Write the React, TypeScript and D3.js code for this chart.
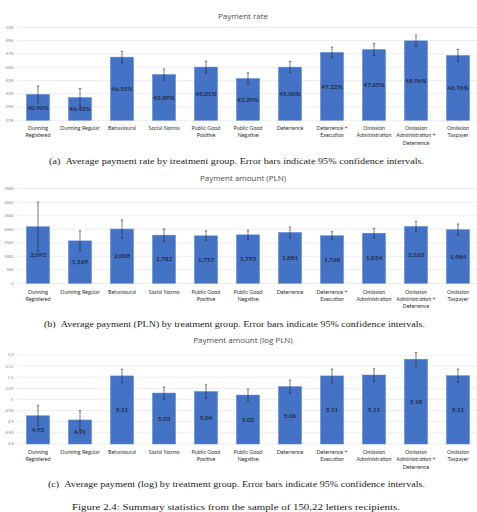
import React, { useEffect, useRef } from "react";
import * as d3 from "d3";

// treatment groups (lines of the x labels)
const groups: string[][] = [
  ["Dunning", "Registered"],
  ["Dunning Regular"],
  ["Behavioural"],
  ["Social Norms"],
  ["Public Good", "Positive"],
  ["Public Good", "Negative"],
  ["Deterrence"],
  ["Deterrence +", "Execution"],
  ["Omission", "Administration"],
  ["Omission", "Administration +", "Deterrence"],
  ["Omission", "Taxpayer"],
];

const rateValues = [40.9, 40.43, 46.51, 43.89, 45.01, 43.29, 45.0, 47.22, 47.65, 48.96, 46.76];
const rateErr = [1.26, 1.35, 0.85, 0.85, 0.9, 0.85, 0.85, 0.8, 0.9, 0.85, 0.9];
const rateTicks = [37, 39, 41, 43, 45, 47, 49, 51];

const amountValues = [2093, 1569, 2008, 1782, 1757, 1793, 1881, 1760, 1854, 2103, 1984];
const amountErr = [910, 368, 337, 226, 178, 170, 200, 150, 180, 190, 210];
const amountTicks = [0, 500, 1000, 1500, 2000, 2500, 3000, 3500];

const logValues = [4.927, 4.908, 5.106, 5.029, 5.036, 5.02, 5.058, 5.106, 5.11, 5.181, 5.107];
const logErr = [0.045, 0.043, 0.03, 0.027, 0.03, 0.027, 0.029, 0.031, 0.028, 0.03, 0.03];
const logTicks = [4.8, 4.85, 4.9, 4.95, 5.0, 5.05, 5.1, 5.15, 5.2];

const captions = [
  { text: "(a)\u00a0\u00a0Average payment rate by treatment group. Error bars indicate 95% confidence intervals.", x: 49, w: 375, y: 161 },
  { text: "(b)\u00a0\u00a0Average payment (PLN) by treatment group. Error bars indicate 95% confidence intervals.", x: 44, w: 381, y: 324 },
  { text: "(c)\u00a0\u00a0Average payment (log) by treatment group. Error bars indicate 95% confidence intervals.", x: 48, w: 377, y: 484 },
  { text: "Figure 2.4: Summary statistics from the sample of 150,22 letters recipients.", x: 72, w: 328, y: 507 },
];

const panels = [
  {
    title: "Payment rate", titleY: 16, values: rateValues, err: rateErr, ticks: rateTicks,
    domain: [37, 51], range: [120.3, 27.3], labelY: 130,
    tickFmt: (d: number) => d + "%", valFmt: (d: number) => d.toFixed(2) + "%",
  },
  {
    title: "Payment amount (PLN)", titleY: 178, values: amountValues, err: amountErr, ticks: amountTicks,
    domain: [0, 3500], range: [283.3, 188.7], labelY: 293.5,
    tickFmt: (d: number) => String(d), valFmt: d3.format(","),
  },
  {
    title: "Payment amount (log PLN)", titleY: 340, values: logValues, err: logErr, ticks: logTicks,
    domain: [4.8, 5.2], range: [444, 355], labelY: 454,
    tickFmt: (d: number) => String(+d.toFixed(2)), valFmt: (d: number) => d.toFixed(2),
  },
];

const App = () => {
  const ref = useRef<SVGSVGElement>(null);

  useEffect(() => {
    const svg = d3.select(ref.current);
    svg.selectAll("*").remove();
    svg.append("rect").attr("width", 477).attr("height", 512).attr("fill", "#fff");

    const x = d3.scaleBand<number>().domain(d3.range(groups.length)).range([17, 479]).paddingInner(0.45).paddingOuter(0.225);

    panels.forEach(p => {
      const y = d3.scaleLinear().domain(p.domain).range(p.range);
      const g = svg.append("g");

      g.append("text")
        .attr("x", 243).attr("y", p.titleY).attr("dy", "0.35em")
        .attr("text-anchor", "middle")
        .attr("font-family", "Open Sans").attr("font-size", 8).attr("fill", "#4d4d4d")
        .text(p.title);

      // grid + y tick labels
      g.selectAll(".grid").data(p.ticks).join("line")
        .attr("x1", 17).attr("x2", 479)
        .attr("y1", d => y(d)).attr("y2", d => y(d))
        .attr("stroke", "#d9d9d9").attr("stroke-width", 0.5);
      g.selectAll(".tick").data(p.ticks).join("text")
        .attr("x", 13.5).attr("y", d => y(d)).attr("dy", "0.35em")
        .attr("text-anchor", "end")
        .attr("font-family", "Lato").attr("font-size", 4).attr("fill", "#7f7f7f")
        .text(d => p.tickFmt(d));

      // bars
      g.selectAll(".bar").data(p.values).join("rect")
        .attr("x", (d, i) => x(i)!)
        .attr("width", x.bandwidth())
        .attr("y", d => y(d))
        .attr("height", d => y(p.domain[0]) - y(d))
        .attr("fill", "#4472c4").attr("stroke", "#5b8ad6").attr("stroke-width", 0.5);

      // error bars
      const cx = (i: number) => x(i)! + x.bandwidth() / 2;
      const eg = g.append("g").attr("stroke", "#262626").attr("stroke-width", 0.6);
      p.values.forEach((v, i) => {
        const lo = y(v - p.err[i]), hi = y(v + p.err[i]);
        eg.append("line").attr("x1", cx(i)).attr("x2", cx(i)).attr("y1", lo).attr("y2", hi);
        eg.append("line").attr("x1", cx(i) - 1.2).attr("x2", cx(i) + 1.2).attr("y1", lo).attr("y2", lo);
        eg.append("line").attr("x1", cx(i) - 1.2).attr("x2", cx(i) + 1.2).attr("y1", hi).attr("y2", hi);
      });

      // value labels at bar middle
      g.selectAll(".val").data(p.values).join("text")
        .attr("x", (d, i) => cx(i))
        .attr("y", d => (y(d) + y(p.domain[0])) / 2).attr("dy", "0.35em")
        .attr("text-anchor", "middle")
        .attr("font-family", "Lato").attr("font-weight", "bold").attr("font-size", 6.3).attr("fill", "#1f2a44")
        .text(d => p.valFmt(d));

      // category labels
      groups.forEach((lines, i) => {
        const t = g.append("text")
          .attr("x", cx(i)).attr("y", p.labelY)
          .attr("text-anchor", "middle")
          .attr("font-family", "Lato").attr("font-size", 5.4).attr("fill", "#333");
        lines.forEach((l, k) => {
          t.append("tspan").attr("x", cx(i)).attr("dy", k === 0 ? 0 : 7.4).text(l);
        });
      });
    });

    svg.selectAll(".cap").data(captions).join("text")
      .attr("x", d => d.x).attr("y", d => d.y).attr("dy", "0.35em")
      .attr("textLength", d => d.w).attr("lengthAdjust", "spacingAndGlyphs")
      .attr("font-family", "Liberation Serif").attr("font-size", 8).attr("fill", "#222")
      .text(d => d.text);
  }, []);

  return (
    <svg ref={ref} width={477} height={512} style={{ position: "absolute", left: 0, top: 0 }} />
  );
};

export default App;
